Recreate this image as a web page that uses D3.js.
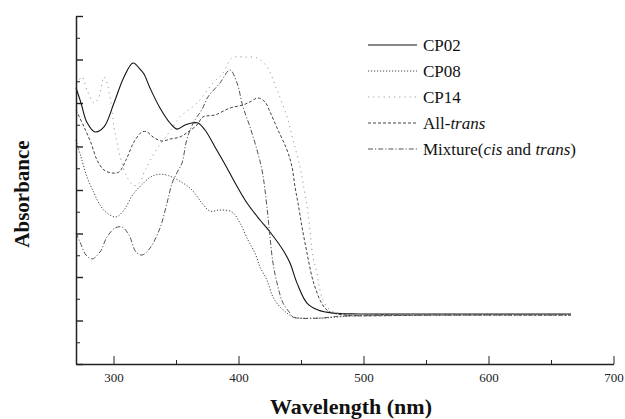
<!DOCTYPE html>
<html>
<head>
<meta charset="utf-8">
<script src="https://cdn.jsdelivr.net/npm/d3@7"></script>
<style>
  body { margin: 0; background: #fff; }
  svg { display: block; font-family: "Liberation Serif", "Times New Roman", serif; }
  .axis path, .axis line { stroke: #222; }
</style>
</head>
<body>
<svg id="chart" width="625" height="419"></svg>
<script>
// spectra: [wavelength (nm), absorbance (a.u.)]
const cp02 = [
  [270, 1.27], [274, 1.20], [278.8, 1.11], [285.2, 1.067], [292.4, 1.09], [300.4, 1.20],
  [308.4, 1.32], [315.6, 1.384], [321.2, 1.356], [324.4, 1.333], [329.2, 1.269], [337.2, 1.177],
  [345.2, 1.108], [350.8, 1.08], [357.2, 1.099], [362.8, 1.108], [367.6, 1.108], [373.2, 1.076],
  [381.2, 0.998], [390.8, 0.901], [399.6, 0.809], [406.8, 0.74], [417.2, 0.662], [425.2, 0.607],
  [435.6, 0.524], [441.2, 0.464], [446.8, 0.372], [454.8, 0.28], [463.6, 0.248], [475.6, 0.234],
  [497, 0.23], [560, 0.23], [620, 0.23], [666, 0.23]
];
const cp08 = [
  [270, 1.03], [274, 0.952], [278.8, 0.86], [284.4, 0.786], [289.2, 0.731], [294.8, 0.694],
  [302, 0.676], [308.4, 0.708], [315.6, 0.78], [323.6, 0.83], [329.2, 0.858], [336, 0.872],
  [344, 0.866], [355.6, 0.832], [362.8, 0.80], [370.8, 0.74], [377.2, 0.703], [385.2, 0.708],
  [394.8, 0.699], [401.2, 0.648], [407.6, 0.57], [413.2, 0.51], [417.2, 0.446], [422.8, 0.386],
  [427.6, 0.308], [433.2, 0.262], [438.8, 0.234], [443.6, 0.216], [465, 0.211], [490, 0.22],
  [560, 0.225], [666, 0.225]
];
const cp14 = [
  [270, 1.29], [272.4, 1.306], [274.8, 1.32], [278.8, 1.26], [284.4, 1.20], [288.4, 1.228],
  [292.4, 1.32], [294.8, 1.292], [298, 1.20], [300.4, 1.09], [302.8, 1.016], [306, 0.938],
  [310.8, 0.86], [316.4, 0.82], [320.4, 0.83], [325.2, 0.89], [334.8, 0.99], [341.2, 1.039],
  [347.6, 1.09], [353.2, 1.136], [366.8, 1.20], [379.6, 1.292], [387.6, 1.338], [394.8, 1.407],
  [405.2, 1.411], [414.8, 1.407], [422.8, 1.366], [430.8, 1.26], [438.8, 1.136], [443.6, 1.03],
  [449.2, 0.906], [451.6, 0.832], [455.6, 0.694], [459.6, 0.492], [462.8, 0.418], [464.6, 0.354],
  [467.6, 0.294], [471.6, 0.257], [476.4, 0.239], [485, 0.23], [560, 0.23], [666, 0.23]
];
const allTrans = [
  [270, 1.168], [276.4, 1.09], [282, 1.016], [286.8, 0.938], [292.4, 0.892], [298.8, 0.878],
  [304.4, 0.883], [310, 0.938], [316.4, 1.021], [322.8, 1.067], [326.8, 1.067], [331.6, 1.044],
  [338.8, 1.025], [345.2, 1.034], [353.2, 1.044], [359.6, 1.067], [366.8, 1.099], [371.6, 1.136],
  [381.2, 1.145], [393.2, 1.177], [403.6, 1.191], [409.2, 1.205], [415.6, 1.223], [421.2, 1.205],
  [425.2, 1.159], [431.6, 1.076], [438.8, 0.984], [442.8, 0.906], [445.2, 0.814], [447.6, 0.74],
  [450.8, 0.63], [454.8, 0.51], [458.8, 0.40], [461.2, 0.354], [465.2, 0.294], [469.2, 0.257],
  [473.2, 0.239], [485, 0.225], [560, 0.225], [666, 0.225]
];
const mixture = [
  [270, 0.602], [273.2, 0.561], [278, 0.501], [282.8, 0.483], [289.2, 0.515], [294.8, 0.584],
  [301.2, 0.625], [306.8, 0.63], [312.4, 0.593], [318, 0.515], [322.8, 0.501], [329.2, 0.533],
  [337.2, 0.625], [342.8, 0.74], [346.8, 0.83], [350.8, 0.88], [354.8, 0.924], [358, 1.016],
  [361.2, 1.076], [366, 1.13], [370.8, 1.17], [375.6, 1.228], [385.2, 1.292], [393.2, 1.352],
  [398.8, 1.292], [403.6, 1.182], [409.2, 1.09], [414.8, 0.984], [418.8, 0.892], [421.2, 0.80],
  [423.6, 0.676], [425.2, 0.584], [427.6, 0.464], [431.6, 0.354], [435.6, 0.28], [441.2, 0.234],
  [443.6, 0.216], [465.2, 0.211], [481, 0.22], [560, 0.225], [666, 0.225]
];

const seriesNames = ['CP02', 'CP08', 'CP14', 'All-trans', 'Mixture(cis and trans)'];
const seriesData = [cp02, cp08, cp14, allTrans, mixture];
const xTicks = [300, 400, 500, 600, 700];
const xMinor = [350, 450, 550, 650];
const yMajor = [0, 0.2, 0.4, 0.6, 0.8, 1.0, 1.2, 1.4, 1.6];
const yMinor = [0.1, 0.3, 0.5, 0.7, 0.9, 1.1, 1.3, 1.5];

// line styles, same order as the series
const styles = [
  { color: '#111', width: 1.1, dash: null },
  { color: '#444', width: 1, dash: '1.2,1.8' },
  { color: '#9a9a9a', width: 1, dash: '1.2,4' },
  { color: '#444', width: 1, dash: '3,2' },
  { color: '#555', width: 1, dash: '5,2,1.2,2' }
];

const svg = d3.select('#chart');
const margin = { left: 76, right: 11.5, top: 16, bottom: 55 };
const W = 625, H = 419;

const x = d3.scaleLinear().domain([270, 700]).range([margin.left, W - margin.right]);
const y = d3.scaleLinear().domain([0, 1.6]).range([H - margin.bottom, margin.top]);

// curves
const line = d3.line()
  .x(d => x(d[0]))
  .y(d => y(d[1]))
  .curve(d3.curveCatmullRom.alpha(0.5));

svg.append('g')
  .selectAll('path')
  .data(seriesData)
  .join('path')
  .attr('fill', 'none')
  .attr('stroke', (d, i) => styles[i].color)
  .attr('stroke-width', (d, i) => styles[i].width)
  .attr('stroke-dasharray', (d, i) => styles[i].dash)
  .attr('d', line);

// x axis, ticks pointing inward
const xAxis = svg.append('g')
  .attr('class', 'axis')
  .attr('transform', `translate(0,${H - margin.bottom})`)
  .call(d3.axisBottom(x).tickValues(xTicks).tickSizeInner(-8).tickSizeOuter(0).tickPadding(9));
xAxis.select('.domain').attr('stroke-width', 1.5);
xAxis.selectAll('text').attr('font-family', '"Liberation Serif", serif').attr('font-size', 13).attr('fill', '#222');
svg.append('g')
  .attr('class', 'axis')
  .attr('transform', `translate(0,${H - margin.bottom})`)
  .call(d3.axisBottom(x).tickValues(xMinor).tickSizeInner(-4).tickSizeOuter(0).tickFormat(''))
  .select('.domain').remove();

// y axis, no labels
const yAxis = svg.append('g')
  .attr('class', 'axis')
  .attr('transform', `translate(${margin.left},0)`)
  .call(d3.axisLeft(y).tickValues(yMajor).tickSizeInner(-7).tickSizeOuter(0).tickFormat(''));
yAxis.select('.domain').attr('stroke-width', 1.5);
yAxis.selectAll('.tick line').attr('stroke-width', 1.4);
svg.append('g')
  .attr('class', 'axis')
  .attr('transform', `translate(${margin.left},0)`)
  .call(d3.axisLeft(y).tickValues(yMinor).tickSizeInner(-4).tickSizeOuter(0).tickFormat(''))
  .select('.domain').remove();

// axis titles
svg.append('text')
  .attr('x', 351)
  .attr('y', 414)
  .attr('text-anchor', 'middle')
  .attr('font-weight', 'bold')
  .attr('font-size', 22)
  .attr('fill', '#111')
  .text('Wavelength (nm)');

svg.append('text')
  .attr('transform', 'translate(29,194) rotate(-90)')
  .attr('text-anchor', 'middle')
  .attr('font-weight', 'bold')
  .attr('font-size', 21)
  .attr('fill', '#111')
  .text('Absorbance');

// legend
const legend = svg.append('g').attr('transform', 'translate(368,45)');
const rows = legend.selectAll('g')
  .data(seriesNames)
  .join('g')
  .attr('transform', (d, i) => `translate(0,${i * 26})`);
rows.append('line')
  .attr('x1', 0).attr('x2', 49).attr('y1', 0).attr('y2', 0)
  .attr('stroke', (d, i) => styles[i].color)
  .attr('stroke-width', (d, i) => styles[i].width)
  .attr('stroke-dasharray', (d, i) => styles[i].dash);
const labels = rows.append('text')
  .attr('x', 55)
  .attr('y', 6)
  .attr('font-size', 17)
  .attr('fill', '#111');
labels.each(function(d) {
  const t = d3.select(this);
  if (d === 'All-trans') {
    t.append('tspan').text('All-');
    t.append('tspan').attr('font-style', 'italic').text('trans');
  } else if (d.startsWith('Mixture')) {
    t.append('tspan').text('Mixture(');
    t.append('tspan').attr('font-style', 'italic').text('cis');
    t.append('tspan').text(' and ');
    t.append('tspan').attr('font-style', 'italic').text('trans');
    t.append('tspan').text(')');
  } else {
    t.text(d);
  }
});
</script>
</body>
</html>
